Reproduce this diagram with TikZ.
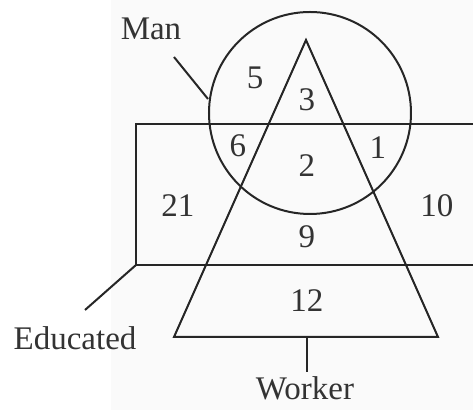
\documentclass[tikz,border=0pt]{standalone}
\usepackage{fontspec}
\setmainfont{Liberation Serif}
\begin{document}
\begin{tikzpicture}[x=0.5pt,y=-0.5pt,
  shape line/.style={draw=black!85, line width=1pt},
  lbl/.style={inner sep=0pt, font=\fontsize{16.5}{20}\selectfont, text=black!80},
  num/.style={inner sep=0pt, font=\fontsize{16.5}{20}\selectfont, text=black!80}]
\useasboundingbox (0,0) rectangle (473,410);
\fill[white!98!black] (111,0) rectangle (473,410);
% Educated rectangle (open to the right)
\coordinate (rtr) at (473,124);
\coordinate (rtl) at (136,124);
\coordinate (rbl) at (136,265);
\coordinate (rbr) at (473,265);
\draw[shape line] (rtr) -- (rtl) -- (rbl) -- (rbr);
% Man circle
\node[shape line, circle, minimum size=202pt*0.5, inner sep=0pt] (man) at (310,113) {};
% Worker triangle
\coordinate (ta) at (306,40);
\coordinate (tl) at (174,337);
\coordinate (tr) at (438,337);
\draw[shape line, line join=miter] (ta) -- (tl) -- (tr) -- cycle;
% labels
\node[lbl] (manlbl) at (151,29) {Man};
\coordinate (manend) at (174,57);
\draw[shape line] (manend) -- (man.west |- 0,99);
\node[lbl] (edlbl) at (75,338) {Educated};
\coordinate (edend) at (85,310);
\draw[shape line] (edend) -- (rbl);
\node[lbl] (wklbl) at (305,388) {Worker};
\coordinate (wkend) at (307,372);
\coordinate (wktop) at (307,337);
\draw[shape line] (wkend) -- (wktop);
% numbers
\node[num] (n5) at (255,78) {5};
\node[num] (n3) at (307,100) {3};
\node[num] (n6) at (238,146) {6};
\node[num] (n1) at (378,148) {1};
\node[num] (n2) at (307,166) {2};
\node[num] (n21) at (178,206) {21};
\node[num] (n10) at (437,206) {10};
\node[num] (n9) at (307,237) {9};
\node[num] (n12) at (307,301) {12};
\end{tikzpicture}
\end{document}
